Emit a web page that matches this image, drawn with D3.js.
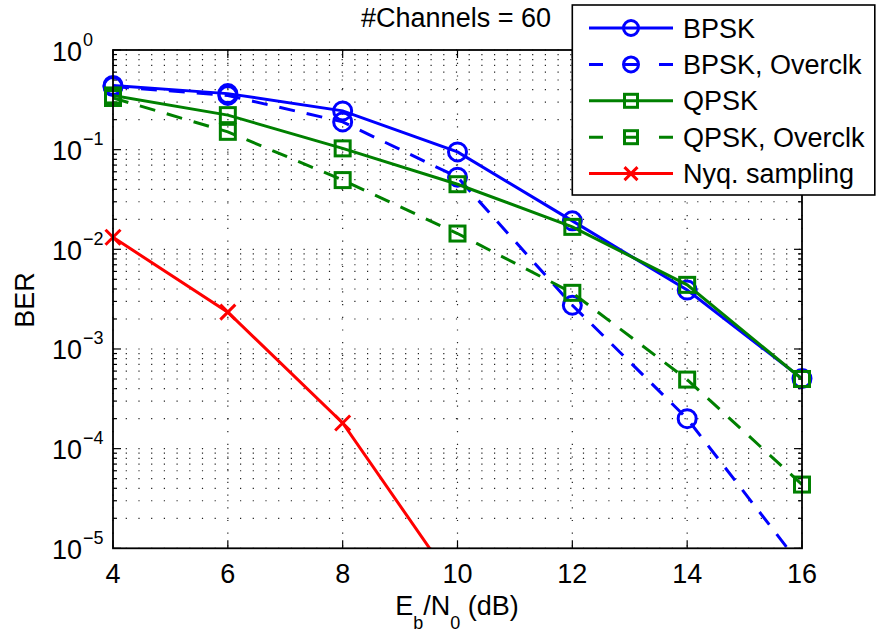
<!DOCTYPE html>
<html>
<head>
<meta charset="utf-8">
<script src="https://cdn.jsdelivr.net/npm/d3@7"></script>
<style>
  body { margin: 0; background: #fff; }
  svg { display: block; font-family: "Liberation Sans", Arial, Helvetica, sans-serif; }
</style>
</head>
<body>
<svg id="chart" width="876" height="634"></svg>
<script>
// Eb/N0 points (dB)
var snr = [4, 6, 8, 10, 12, 14, 16];

// BER curves
var bpsk     = [0.44, 0.365, 0.245, 0.095, 0.0193, 0.0039, 0.000505];
var bpskOc   = [0.43, 0.35, 0.19, 0.053, 0.00275, 0.0002, 6.5e-6];
var qpsk     = [0.35, 0.222, 0.103, 0.045, 0.0168, 0.0044, 0.0005];
var qpskOc   = [0.33, 0.151, 0.0495, 0.0144, 0.00366, 0.000493, 4.36e-5];
var nyqSnr   = [4, 6, 8, 10];
var nyq      = [0.0132, 0.00234, 1.81e-4, 3.95e-6];

var xTicks = [4, 6, 8, 10, 12, 14, 16];
var yExps  = [0, -1, -2, -3, -4, -5];
var seriesNames = ["BPSK", "BPSK, Overclk", "QPSK", "QPSK, Overclk", "Nyq. sampling"];
var titleText = "#Channels = 60";

var series = [
  { name: seriesNames[0], x: snr, y: bpsk,   color: "#0000ff", dash: null,    marker: "circle" },
  { name: seriesNames[1], x: snr, y: bpskOc, color: "#0000ff", dash: "16,12", marker: "circle" },
  { name: seriesNames[2], x: snr, y: qpsk,   color: "#008000", dash: null,    marker: "square" },
  { name: seriesNames[3], x: snr, y: qpskOc, color: "#008000", dash: "16,12", marker: "square" },
  { name: seriesNames[4], x: nyqSnr, y: nyq, color: "#ff0000", dash: null,    marker: "cross" }
];

// plot box (careful: "top" is taken by window.top)
var pLeft = 113, pRight = 802, pTop = 50, pBottom = 548.3;
var fs = 27, fsSmall = 18;
var svg = d3.select("#chart");

var x = d3.scaleLinear().domain([4, 16]).range([pLeft, pRight]);
var y = d3.scaleLog().domain([1e-5, 1]).range([pBottom, pTop]);

// clip for the curves
svg.append("defs").append("clipPath").attr("id", "plotclip")
  .append("rect").attr("x", pLeft).attr("y", pTop).attr("width", pRight - pLeft).attr("height", pBottom - pTop);

// dotted grid, major and minor on the log axis
var gridY = [];
yExps.forEach(function (e) {
  for (var k = 1; k <= 9; k++) {
    var v = k * Math.pow(10, e);
    if (v >= 1e-5 && v <= 1) gridY.push({ v: v, major: k == 1 });
  }
});

var grid = svg.append("g");
grid.selectAll(".gy").data(gridY).enter().append("line")
  .attr("x1", pLeft).attr("x2", pRight)
  .attr("y1", function (d) { return y(d.v); }).attr("y2", function (d) { return y(d.v); })
  .attr("stroke", "#222").attr("stroke-width", 1.2).attr("stroke-dasharray", "1.2,11.5");
grid.selectAll(".gx").data(xTicks).enter().append("line")
  .attr("x1", function (d) { return x(d); }).attr("x2", function (d) { return x(d); })
  .attr("y1", pTop).attr("y2", pBottom)
  .attr("stroke", "#222").attr("stroke-width", 1.2).attr("stroke-dasharray", "1.2,11.5");

// tick marks inside the box, on all four sides
var ticks = svg.append("g").attr("stroke", "#000").attr("stroke-width", 1.2);
xTicks.forEach(function (t) {
  ticks.append("line").attr("x1", x(t)).attr("x2", x(t)).attr("y1", pBottom).attr("y2", pBottom - 8);
  ticks.append("line").attr("x1", x(t)).attr("x2", x(t)).attr("y1", pTop).attr("y2", pTop + 8);
});
gridY.forEach(function (d) {
  var len = d.major ? 8 : 4;
  ticks.append("line").attr("x1", pLeft).attr("x2", pLeft + len).attr("y1", y(d.v)).attr("y2", y(d.v));
  ticks.append("line").attr("x1", pRight).attr("x2", pRight - len).attr("y1", y(d.v)).attr("y2", y(d.v));
});

// curves
var line = d3.line()
  .x(function (d) { return x(d[0]); })
  .y(function (d) { return y(d[1]); });

var curves = svg.append("g");
series.forEach(function (s) {
  var pts = s.x.map(function (v, i) { return [v, s.y[i]]; });
  curves.append("path")
    .attr("d", line(pts))
    .attr("clip-path", "url(#plotclip)")
    .attr("fill", "none")
    .attr("stroke", s.color)
    .attr("stroke-width", 3)
    .attr("stroke-dasharray", s.dash);

  // markers are only drawn for points inside the axis range
  pts.filter(function (p) { return p[1] >= 1e-5; }).forEach(function (p) {
    drawMarker(curves, s.marker, x(p[0]), y(p[1]), s.color, s.marker == "circle" ? 9 : 7.5);
  });
});

function drawMarker(g, type, cx, cy, color, r) {
  if (type == "circle") {
    g.append("circle").attr("cx", cx).attr("cy", cy).attr("r", r)
      .attr("fill", "none").attr("stroke", color).attr("stroke-width", 3);
  } else if (type == "square") {
    g.append("rect").attr("x", cx - r).attr("y", cy - r).attr("width", 2 * r).attr("height", 2 * r)
      .attr("fill", "none").attr("stroke", color).attr("stroke-width", 3);
  } else {
    g.append("path")
      .attr("d", "M" + (cx - r) + "," + (cy - r) + "L" + (cx + r) + "," + (cy + r) +
                 "M" + (cx - r) + "," + (cy + r) + "L" + (cx + r) + "," + (cy - r))
      .attr("stroke", color).attr("stroke-width", 3);
  }
}

// axes box
svg.append("rect").attr("x", pLeft).attr("y", pTop).attr("width", pRight - pLeft).attr("height", pBottom - pTop)
  .attr("fill", "none").attr("stroke", "#000").attr("stroke-width", 1.8);

// tick labels
svg.append("g").selectAll("text").data(xTicks).enter().append("text")
  .attr("x", function (d) { return x(d); }).attr("y", 583)
  .attr("text-anchor", "middle").attr("font-size", fs)
  .text(function (d) { return d; });

var ylab = svg.append("g").selectAll("text").data(yExps).enter().append("text")
  .attr("x", 52).attr("y", function (d) { return y(Math.pow(10, d)) + 10.5; })
  .attr("font-size", fs);
ylab.append("tspan").text("10");
ylab.append("tspan").attr("dy", -15).attr("dx", 1).attr("font-size", fsSmall)
  .text(function (d) { return d == 0 ? "0" : "\u2212" + (-d); });

// axis titles
svg.append("text").attr("transform", "translate(33.5,300) rotate(-90)")
  .attr("text-anchor", "middle").attr("font-size", fs).text("BER");

var xl = svg.append("text").attr("x", 457).attr("y", 615).attr("text-anchor", "middle").attr("font-size", fs);
xl.append("tspan").text("E");
xl.append("tspan").attr("dy", 14).attr("font-size", fsSmall).text("b");
xl.append("tspan").attr("dy", -14).text("/N");
xl.append("tspan").attr("dy", 14).attr("font-size", fsSmall).text("0");
xl.append("tspan").attr("dy", -14).text(" (dB)");

svg.append("text").attr("x", 456).attr("y", 27).attr("text-anchor", "middle")
  .attr("font-size", fs).text(titleText);

// legend
var leg = svg.append("g");
leg.append("rect").attr("x", 572.3).attr("y", 5).attr("width", 302.5).attr("height", 190)
  .attr("fill", "#fff").attr("stroke", "#000").attr("stroke-width", 1.6);

series.forEach(function (s, i) {
  var ly = 28 + i * 36.4;
  leg.append("line").attr("x1", 589).attr("x2", 673).attr("y1", ly).attr("y2", ly)
    .attr("stroke", s.color).attr("stroke-width", 3)
    .attr("stroke-dasharray", s.dash ? "14,21" : null);
  drawMarker(leg, s.marker, 631, ly, s.color, s.marker == "circle" ? 7.5 : 6.5);
  leg.append("text").attr("x", 683).attr("y", ly + 9.5).attr("font-size", fs).text(s.name);
});
</script>
</body>
</html>
